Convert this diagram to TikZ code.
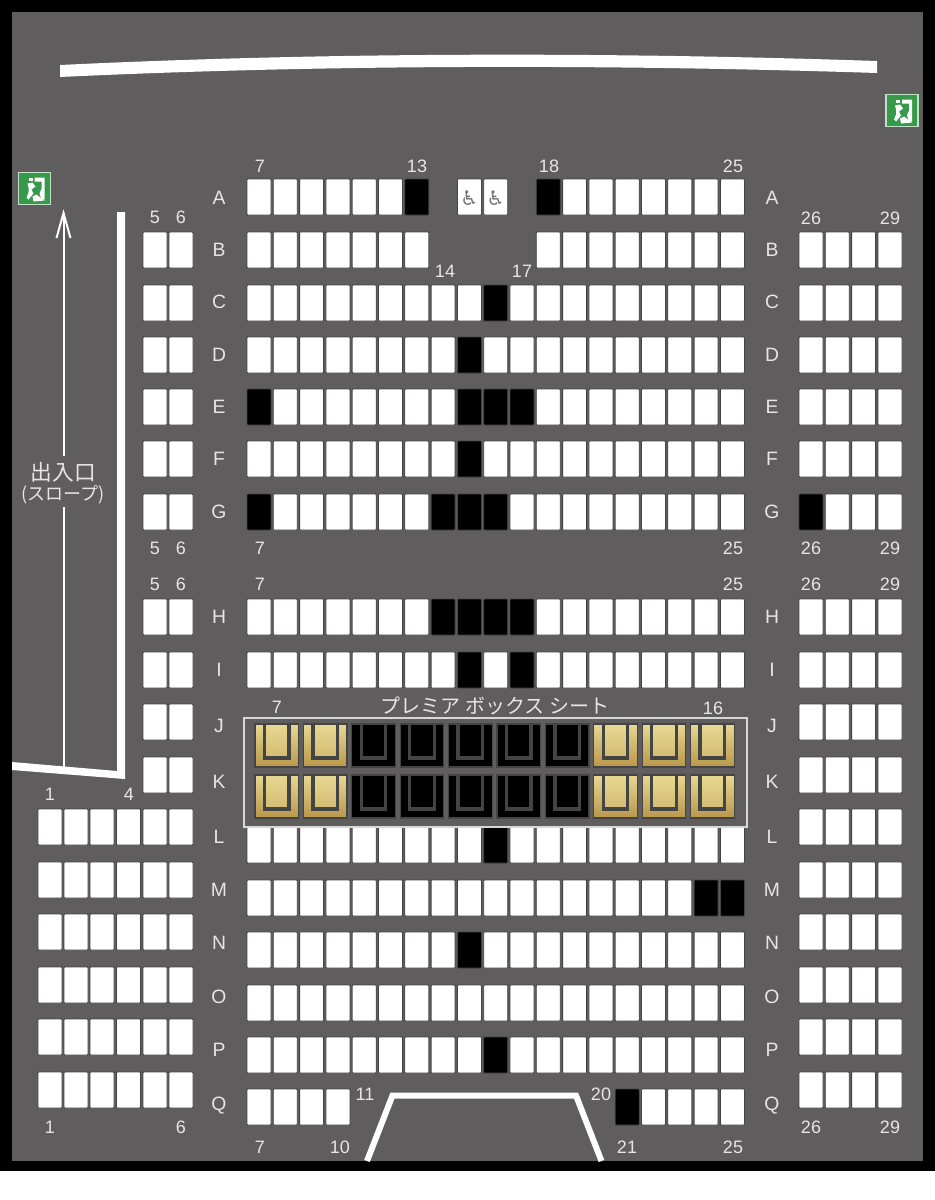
\documentclass[tikz,border=0pt]{standalone}
\usepackage{fontspec}
\setmainfont{Liberation Sans}
\newfontfamily\jpfont{Noto Sans CJK JP}
\newfontfamily\djfont{DejaVu Sans}
\definecolor{floorgray}{HTML}{5F5D5E}
\definecolor{seatedge}{HTML}{454445}
\definecolor{labelcol}{HTML}{E6E6E6}
\definecolor{goldtop}{HTML}{E8D892}
\definecolor{goldbot}{HTML}{B8974A}
\definecolor{exitgreen}{HTML}{37994A}
\tikzset{
  x=0.75pt,y=-0.75pt,
  seatbase/.style={draw=seatedge,line width=0.6pt,rounded corners=0.6pt},
  num/.style={text=labelcol,font=\fontsize{13.5}{14}\selectfont,inner sep=0pt},
  rowlab/.style={text=labelcol,font=\fontsize{14.5}{15}\selectfont,inner sep=0pt},
  jptext/.style={text=labelcol,font=\jpfont\fontsize{15}{16}\selectfont,inner sep=0pt},
  wallline/.style={draw=white,line width=4.5pt},
}
% single seat: x, y (top left), fill
\newcommand{\oneseat}[3]{\path[seatbase,fill=#3] (#1,#2) rectangle ++(24,36);}
% centre row: y, white indices, black indices
\newcommand{\crow}[3]{%
  \foreach \i in {#2}{\pgfmathsetmacro{\sx}{247+26.3*\i}\oneseat{\sx}{#1}{white}}%
  \foreach \i in {#3}{\pgfmathsetmacro{\sx}{247+26.3*\i}\oneseat{\sx}{#1}{black}}%
}
% premium seat: x, y
\newcommand{\goldseat}[2]{%
  \path[draw=seatedge,line width=0.9pt,top color=goldtop,bottom color=goldbot] (#1,#2) rectangle ++(43.5,43);
  \path[top color=goldtop,bottom color=goldtop!55!goldbot] (#1,#2) ++(9.5,1) rectangle ++(24.5,33);
  \draw[seatedge,line width=2.5pt] (#1,#2) ++(9.5,0) -- ++(0,34) -- ++(24.5,0) -- ++(0,-34);
}
\newcommand{\darkseat}[2]{%
  \path[draw=seatedge,line width=0.9pt,fill=black] (#1,#2) rectangle ++(43.5,43);
  \draw[seatedge,line width=2.5pt] (#1,#2) ++(9.5,0) -- ++(0,34) -- ++(24.5,0) -- ++(0,-34);
}
% exit sign
\newcommand{\exitsign}[2]{%
  \begin{scope}[shift={(#1,#2)}]
    \path[fill=exitgreen,draw=white!70!exitgreen,line width=0.8pt] (0,0) rectangle (32,32);
    \path[fill=white] (16,5) -- (26,5) -- (26,27) -- (23,27) -- (21,21) -- (23,16) -- (23,9) -- (16,9) -- cycle;
    \path[fill=white] (10,5) rectangle (14,8);
    \path[fill=white] (9,11) -- (14,10) -- (17,14) -- (13,17) -- (15,21) -- (10,27) -- (8,25) -- (10,20) -- (10,15) -- cycle;
    \path[fill=white] (14,24) -- (18,22) -- (26,28) -- (15,29) -- cycle;
  \end{scope}%
}
\begin{document}
\begin{tikzpicture}
\useasboundingbox (0,0) rectangle (935,1200);
\path[fill=white] (0,0) rectangle (935,1200);
\path[fill=black] (0,0) rectangle (935,1171);
\path[fill=floorgray] (12,12) rectangle (923,1161);
% screen
\path[fill=white] (60,65) .. controls (330,52) and (610,52) .. (877,61) -- (877,73) .. controls (610,64.3) and (330,64.3) .. (60,77) -- cycle;
% exits
\exitsign{18.5}{172.5}
\exitsign{886}{94.5}
% entrance wall and arrow
\path[fill=white] (117,212) -- (125,212) -- (125,779) -- (12,770) -- (12,762) -- (117,771) -- cycle;
\draw[white,line width=1.5pt] (63.5,767) -- (63.5,507);
\draw[white,line width=1.5pt] (63.5,456) -- (63.5,213);
\draw[white,line width=1.5pt] (56.5,238) -- (63.5,213) -- (70.5,238);
\node[jptext,font=\jpfont\fontsize{16.3}{17}\selectfont] (door) at (63.5,472) {出入口};
\node[jptext,font=\jpfont\fontsize{13.5}{14}\selectfont] (slope) at (63,495) {(スロープ)};
% stage
\draw[wallline,line join=miter] (367,1161) -- (392.5,1095.5) -- (576,1095.5) -- (601.5,1161);
% centre block
\crow{179}{0,...,5,12,13,...,18}{6,11}
\crow{232}{0,...,6,11,12,...,18}{}
\crow{285}{0,...,8,10,11,...,18}{9}
\crow{337}{0,...,7,9,10,...,18}{8}
\crow{389}{1,2,...,7,11,12,...,18}{0,8,9,10}
\crow{441}{0,...,7,9,10,...,18}{8}
\crow{494}{1,2,...,6,10,11,...,18}{0,7,8,9}
\crow{599}{0,...,6,11,12,...,18}{7,8,9,10}
\crow{652}{0,...,7,9,11,12,...,18}{8,10}
\crow{827}{0,...,8,10,11,...,18}{9}
\crow{880}{0,...,16}{17,18}
\crow{932}{0,...,7,9,10,...,18}{8}
\crow{985}{0,...,18}{}
\crow{1037}{0,...,8,10,11,...,18}{9}
\crow{1089}{0,1,2,3,15,16,17,18}{14}
% wheelchair seats
\foreach \wx/\wn in {457.4/wa,483.7/wb}{
  \oneseat{\wx}{179}{white}
  \node[text=black!55,font=\djfont\fontsize{15}{15}\selectfont,inner sep=0pt] (\wn) at (\wx+12,198) {♿};
}
% left side columns 5,6
\foreach \y in {232,285,337,389,441,494,599,652,704,757}{
  \oneseat{143}{\y}{white}\oneseat{169}{\y}{white}
}
% left lower block
\foreach \y in {809,862,914,967,1019,1072}{
  \foreach \x in {38,64,90,116.5,143,169}{\oneseat{\x}{\y}{white}}
}
% right block
\foreach \y in {232,285,337,389,441,494,599,652,704,757,809,862,914,967,1019,1072}{
  \foreach \x in {799,825.3,851.6,878}{\oneseat{\x}{\y}{white}}
}
\oneseat{799}{494}{black}
% premium box
\draw[draw=white!75!floorgray,line width=1.2pt] (244,718) rectangle (747,827);
\foreach \y in {724,775}{
  \foreach \i in {0,1,7,8,9}{\pgfmathsetmacro{\sx}{255+48.4*\i}\goldseat{\sx}{\y}}
  \foreach \i in {2,...,6}{\pgfmathsetmacro{\sx}{255+48.4*\i}\darkseat{\sx}{\y}}
}
\node[jptext] (premier) at (495,706) {プレミア ボックス シート};
% row letters
\foreach \t/\y in {A/198,B/250,C/302,D/355,E/407,F/459,G/512,H/617,I/670,J/726,K/782,L/837,M/890,N/943,O/997,P/1050,Q/1106}{
  \node[rowlab] (l\t) at (219,\y) {\t};
  \node[rowlab] (r\t) at (772,\y) {\t};
}
% numbers
\foreach \t/\x/\y [count=\n] in {7/260/166,13/417/166,18/549/166,25/733/166,
  5/155/217,6/181/217,26/811/218,29/890/218,14/445/271,17/522/271,
  5/155/548,6/181/548,7/260/548,25/733/548,26/811/548,29/890/548,
  5/155/584,6/181/584,7/260/584,25/733/584,26/811/584,29/890/584,
  7/277/707,16/713/708,1/50/794,4/129/794,1/50/1127,6/181/1127,
  11/365/1094,20/601/1094,7/260/1147,10/340/1147,21/627/1147,25/733/1147,
  26/811/1127,29/890/1127}{
  \node[num] (n\n) at (\x,\y) {\t};
}
\end{tikzpicture}
\end{document}
